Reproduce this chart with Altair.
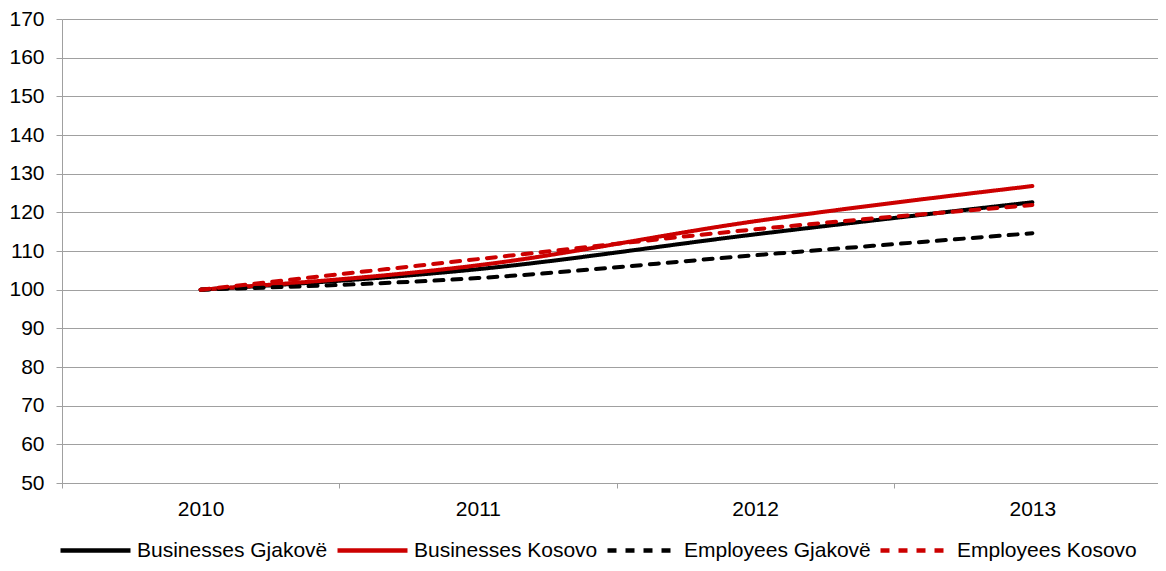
import altair as alt
import pandas as pd

years = ["2010", "2011", "2012", "2013"]
series_names = ["Businesses Gjakovë", "Businesses Kosovo", "Employees Gjakovë", "Employees Kosovo"]
businesses_gjakove = [100, 105.3, 114.3, 122.6]
businesses_kosovo = [100, 106.3, 117.7, 126.8]
employees_gjakove = [100, 103.0, 108.9, 114.6]
employees_kosovo = [100, 107.9, 115.6, 121.9]

colors = ["#000000", "#CC0000", "#000000", "#CC0000"]
dashes = [[1, 0], [1, 0], [9, 9], [9, 9]]

rows = []
for name, vals in zip(series_names, [businesses_gjakove, businesses_kosovo, employees_gjakove, employees_kosovo]):
    for y, v in zip(years, vals):
        rows.append({"year": y, "value": v, "series": name})
df = pd.DataFrame(rows)

font = "Liberation Sans"
fs = 21

chart = alt.Chart(df).mark_line(strokeWidth=4, interpolate="monotone", strokeCap="round").encode(
    x=alt.X("year:O", title=None, bandPosition=0.5,
            scale=alt.Scale(type="band", paddingInner=0, paddingOuter=0),
            axis=alt.Axis(tickBand="extent", labelAngle=0, grid=False, domainColor="#A0A0A0",
                          tickColor="#A0A0A0", tickSize=5, labelPadding=10, labelFontSize=fs,
                          labelFont=font, labelColor="#000000")),
    y=alt.Y("value:Q", title=None,
            scale=alt.Scale(domain=[50, 170], nice=False, zero=False),
            axis=alt.Axis(values=list(range(50, 171, 10)), gridColor="#A0A0A0", gridWidth=1,
                          domainColor="#A0A0A0", tickColor="#A0A0A0", tickSize=6, labelPadding=12,
                          labelFontSize=fs, labelFont=font, labelColor="#000000")),
    color=alt.Color("series:N", sort=series_names,
                    scale=alt.Scale(domain=series_names, range=colors),
                    legend=alt.Legend(title=None, orient="none", legendX=-4, legendY=521,
                                      direction="horizontal", columns=4, symbolType="stroke",
                                      symbolSize=4900, symbolStrokeWidth=4.5, labelFontSize=fs,
                                      labelFont=font, labelColor="#000000", labelOffset=4,
                                      labelLimit=400, columnPadding=7, clipHeight=21)),
    strokeDash=alt.StrokeDash("series:N", sort=series_names,
                              scale=alt.Scale(domain=series_names, range=dashes),
                              legend=None),
).properties(
    width=1109, height=464,
    autosize=alt.AutoSizeParams(type="none"),
    padding={"left": 54, "top": 11, "right": -13, "bottom": 80},
).configure_view(stroke=None)

chart.save("out.html", embed_options={"renderer": "svg", "actions": False})
